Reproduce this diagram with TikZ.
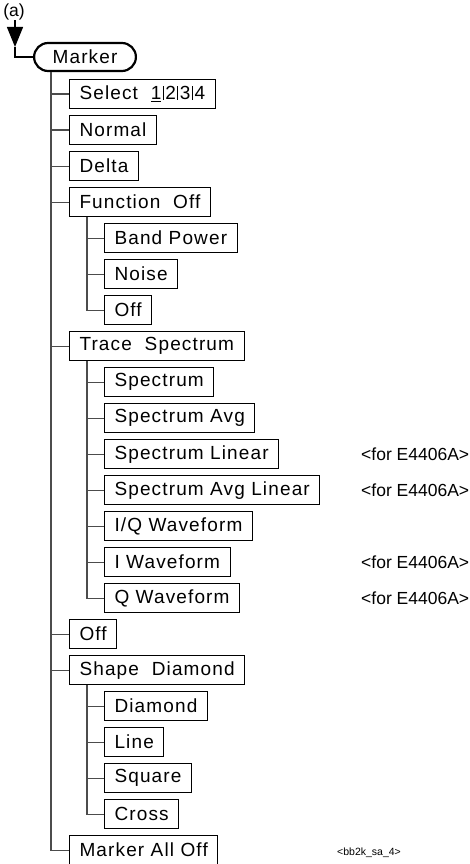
\documentclass[tikz,border=0pt]{standalone}
\usepackage{fontspec}
\setmainfont{Liberation Sans}
\newfontfamily\keyfamily{Liberation Sans}[LetterSpace=6]
\usetikzlibrary{arrows.meta,positioning}

\newcommand\keyfont{\keyfamily\fontsize{19}{22}\selectfont}
\newcommand\notefont{\fontsize{17.5}{20}\selectfont}
\newcommand\tagfont{\fontsize{10.5}{12}\selectfont}
\newcommand\keybar{\kern1.5pt\rule{1pt}{0.72em}\kern1.5pt}

\begin{document}
\begin{tikzpicture}[
  x=1pt,y=1pt,
  node distance=6pt,
  key/.style={rectangle,draw,line width=1pt,minimum height=29pt,inner xsep=10pt,inner ysep=0pt,font=\keyfont},
  menu/.style={key,rounded corners=14pt,line width=2.2pt,minimum height=28pt,inner xsep=18.5pt},
  note/.style={anchor=west,inner sep=0pt,font=\notefont},
  tree/.style={line width=1.2pt,black!70},
  arr/.style={-{Triangle[length=20pt,width=16pt]},line width=1.2pt}
]
\useasboundingbox (0,0) rectangle (470,-864);
\node[note,anchor=center] (lbl) at (14,-12) {(a)};
\node[menu,anchor=west] (mk) at (33,-57) {Marker};
% first level
\node[key,below right=7pt and 36pt of mk.south west] (sel) {Select\ \ {\addfontfeature{LetterSpace=0}\underline{1}\keybar2\keybar3\keybar4}};
\node[key,below right=6pt and 0pt of sel.south west] (nor) {Normal};
\node[key,below right=6pt and 0pt of nor.south west] (del) {Delta};
\node[key,below right=6pt and 0pt of del.south west] (fo) {Function\ \ Off};
\node[key,below right=6pt and 35pt of fo.south west] (bp) {Band Power};
\node[key,below right=6pt and 0pt of bp.south west] (noi) {Noise};
\node[key,below right=6pt and 0pt of noi.south west] (off2) {Off};
\node[key,below right=6pt and -35pt of off2.south west] (trs) {Trace\ \ Spectrum};
\node[key,below right=6pt and 35pt of trs.south west] (sp) {Spectrum};
\node[key,below right=6pt and 0pt of sp.south west] (spa) {Spectrum Avg};
\node[key,below right=6pt and 0pt of spa.south west] (spl) {Spectrum Linear};
\node[key,below right=6pt and 0pt of spl.south west] (sal) {Spectrum Avg Linear};
\node[key,below right=6pt and 0pt of sal.south west] (iq) {I/Q Waveform};
\node[key,below right=6pt and 0pt of iq.south west] (iw) {I Waveform};
\node[key,below right=6pt and 0pt of iw.south west] (qw) {Q Waveform};
\node[key,below right=6pt and -35pt of qw.south west] (off) {Off};
\node[key,below right=6pt and 0pt of off.south west] (sd) {Shape\ \ Diamond};
\node[key,below right=6pt and 35pt of sd.south west] (dia) {Diamond};
\node[key,below right=6pt and 0pt of dia.south west] (lin) {Line};
\node[key,below right=6pt and 0pt of lin.south west] (squ) {Square};
\node[key,below right=6pt and 0pt of squ.south west] (cro) {Cross};
\node[key,below right=6pt and -35pt of cro.south west] (mao) {Marker All Off};
% notes
\coordinate (nx) at (361,0);
\coordinate (tx) at (337,0);
\node[note] (n1) at (spl.west -| nx) {<for E4406A>};
\node[note] (n2) at (sal.west -| nx) {<for E4406A>};
\node[note] (n3) at (iw.west -| nx) {<for E4406A>};
\node[note] (n4) at (qw.west -| nx) {<for E4406A>};
\node[note,font=\tagfont,yshift=-3pt] (tag) at (mao.west -| tx) {<bb2k\_sa\_4>};
% entry arrow
\coordinate (tip) at (15,-47);
\draw[arr] (lbl.south -| tip) -- (tip);
\draw[line width=1.2pt] (tip) |- (mk.west);
% tree lines
\coordinate (s0) at ([xshift=18pt]mk.south west);
\draw[tree] (s0) |- (mao.west);
\foreach \n in {sel,nor,del,fo,trs,off,sd}
  \draw[tree] (\n.west) -- (\n.west -| s0);
\coordinate (s1) at ([xshift=18pt]fo.south west);
\draw[tree] (s1) |- (off2.west);
\foreach \n in {bp,noi}
  \draw[tree] (\n.west) -- (\n.west -| s1);
\coordinate (s2) at ([xshift=18pt]trs.south west);
\draw[tree] (s2) |- (qw.west);
\foreach \n in {sp,spa,spl,sal,iq,iw}
  \draw[tree] (\n.west) -- (\n.west -| s2);
\coordinate (s3) at ([xshift=18pt]sd.south west);
\draw[tree] (s3) |- (cro.west);
\foreach \n in {dia,lin,squ}
  \draw[tree] (\n.west) -- (\n.west -| s3);
\end{tikzpicture}
\end{document}
